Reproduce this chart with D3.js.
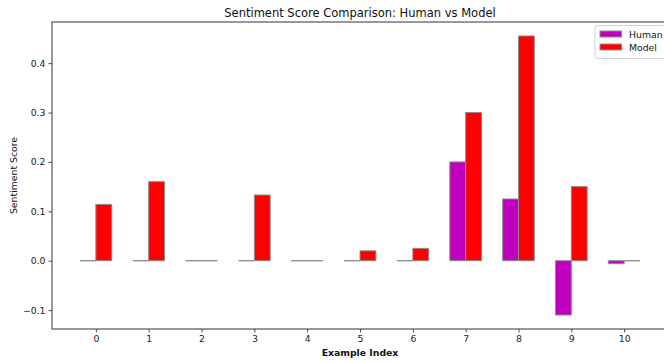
<!DOCTYPE html>
<html>
<head>
<meta charset="utf-8">
<script src="https://cdn.jsdelivr.net/npm/d3@7"></script>
<style>
  html, body { margin: 0; padding: 0; background: #fff; }
  svg { display: block; font-family: "DejaVu Sans", sans-serif; }
</style>
</head>
<body>
<svg id="chart" width="664" height="362"></svg>
<script>
// ---- data ----
const categories = [0, 1, 2, 3, 4, 5, 6, 7, 8, 9, 10];
const humanScores = [0, 0, 0, 0, 0, 0, 0, 0.20, 0.125, -0.11, -0.006];
const modelScores = [0.114, 0.160, 0, 0.133, 0, 0.020, 0.025, 0.300, 0.455, 0.150, 0];
const seriesNames = ["Human", "Model"];
const yTickValues = [-0.1, 0.0, 0.1, 0.2, 0.3, 0.4];
const yTickLabels = ["\u22120.1", "0.0", "0.1", "0.2", "0.3", "0.4"];
const titleText = "Sentiment Score Comparison: Human vs Model";
const xLabelText = "Example Index";
const yLabelText = "Sentiment Score";

// ---- layout ----
const svg = d3.select("#chart");
const pLeft = 52, pRight = 668, pTop = 22, pBottom = 329;
const barW = 0.3;
const colors = { Human: "#bf00bf", Model: "#ff0000" };

const xMin = d3.min(categories) - barW, xMax = d3.max(categories) + barW;
const xPad = (xMax - xMin) * 0.05;
const x = d3.scaleLinear().domain([xMin - xPad, xMax + xPad]).range([pLeft, pRight]);

const all = humanScores.concat(modelScores);
const yMin = d3.min(all), yMax = d3.max(all);
const yPad = (yMax - yMin) * 0.05;
const y = d3.scaleLinear().domain([yMin - yPad, yMax + yPad]).range([pBottom, pTop]);

svg.append("defs").append("clipPath").attr("id", "plotclip")
  .append("rect").attr("x", pLeft).attr("y", pTop).attr("width", pRight - pLeft).attr("height", pBottom - pTop);

const plot = svg.append("g").attr("clip-path", "url(#plotclip)");

function drawBars(values, offset, color) {
  plot.append("g").selectAll("path").data(categories).join("path")
    .attr("d", (d, i) => {
      const x0 = x(d + offset), x1 = x(d + offset + barW);
      const y0 = y(0), y1 = y(values[i]);
      return `M${x0},${y0}H${x1}V${y1}H${x0}Z`;
    })
    .attr("fill", color)
    .attr("stroke", "#8c8c8c")
    .attr("stroke-width", 1);
}
drawBars(humanScores, -barW, colors.Human);
drawBars(modelScores, 0, colors.Model);

// ---- axes ----
const xAxis = d3.axisBottom(x).tickValues(categories).tickSize(3.5).tickPadding(3).tickFormat(d3.format("d"));
const gx = svg.append("g").attr("transform", `translate(0,${pBottom})`).call(xAxis);
const yAxis = d3.axisLeft(y).tickValues(yTickValues).tickSize(3.5).tickPadding(3)
  .tickFormat((d, i) => yTickLabels[i]);
const gy = svg.append("g").attr("transform", `translate(${pLeft},0)`).call(yAxis);

[gx, gy].forEach(g => {
  g.select(".domain").remove();
  g.selectAll(".tick line").attr("stroke", "#222").attr("stroke-width", 0.8);
  g.selectAll(".tick text").attr("fill", "#222").style("font-size", "9.3px")
    .style("font-family", "'DejaVu Sans', sans-serif");
});

// spines
svg.append("rect").attr("x", pLeft).attr("y", pTop).attr("width", pRight - pLeft).attr("height", pBottom - pTop)
  .attr("fill", "none").attr("stroke", "#333").attr("stroke-width", 1);

// ---- texts ----
svg.append("text").attr("x", (pLeft + pRight) / 2).attr("y", 17).attr("text-anchor", "middle")
  .style("font-size", "11.5px").attr("fill", "#111").text(titleText);
svg.append("text").attr("x", (pLeft + pRight) / 2).attr("y", 356).attr("text-anchor", "middle")
  .style("font-size", "9.3px").style("font-weight", "bold").attr("fill", "#111").text(xLabelText);
svg.append("text").attr("transform", `translate(17,${(pTop + pBottom) / 2}) rotate(-90)`)
  .attr("text-anchor", "middle").style("font-size", "9.3px").attr("fill", "#111").text(yLabelText);

// ---- legend ----
const lg = svg.append("g");
lg.append("rect").attr("x", 595).attr("y", 25.5).attr("width", 70).attr("height", 33)
  .attr("rx", 2).attr("fill", "#fff").attr("fill-opacity", 0.85).attr("stroke", "#d0d0d0").attr("stroke-width", 1);
seriesNames.forEach((name, i) => {
  const yy = 31 + i * 13;
  lg.append("rect").attr("x", 600).attr("y", yy).attr("width", 21.5).attr("height", 6)
    .attr("fill", colors[name]).attr("stroke", "#8c8c8c").attr("stroke-width", 1);
  lg.append("text").attr("x", 629).attr("y", yy + 7).style("font-size", "9.3px").attr("fill", "#111").text(name);
});
</script>
</body>
</html>
